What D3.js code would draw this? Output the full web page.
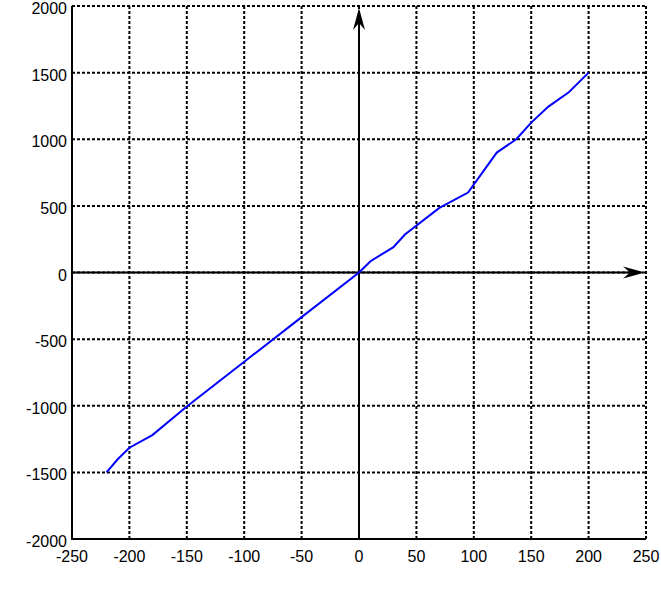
<!DOCTYPE html>
<html>
<head>
<meta charset="utf-8">
<script src="https://cdn.jsdelivr.net/npm/d3@7"></script>
<style>
body { margin: 0; background: #fff; }
text { font-family: "Liberation Sans", Arial, sans-serif; font-size: 16px; fill: #000; }
</style>
</head>
<body>
<svg width="661" height="595"></svg>
<script>
"use strict";

var xTicks = [-250, -200, -150, -100, -50, 0, 50, 100, 150, 200, 250];
var yTicks = [-2000, -1500, -1000, -500, 0, 500, 1000, 1500, 2000];
var xs = [-220, -210, -200, -180, -150, -100, -50, 0, 10, 30, 40, 70, 95, 120, 137, 150, 165, 183, 200];
var ys = [-1500, -1400, -1315, -1220, -1005, -670, -335, 0, 85, 190, 285, 485, 600, 900, 1000, 1125, 1245, 1355, 1500];

var svg = d3.select('svg');
var x = d3.scaleLinear().domain([-250, 250]).range([72, 646]);
var y = d3.scaleLinear().domain([-2000, 2000]).range([539, 6]);

// grid
svg.selectAll('line.gx').data(xTicks.slice(1, -1)).enter().append('line')
	.attr('x1', function(d) {return x(d)}).attr('x2', function(d) {return x(d)})
	.attr('y1', y(-2000)).attr('y2', y(2000))
	.attr('stroke', '#000').attr('stroke-width', 2).attr('stroke-dasharray', '3,2');
svg.selectAll('line.gy').data(yTicks.slice(1, -1)).enter().append('line')
	.attr('y1', function(d) {return y(d)}).attr('y2', function(d) {return y(d)})
	.attr('x1', x(-250)).attr('x2', x(250))
	.attr('stroke', '#000').attr('stroke-width', 2).attr('stroke-dasharray', '3,2');
svg.append('line').attr('x1', x(-250)).attr('x2', x(250)).attr('y1', y(2000)).attr('y2', y(2000))
	.attr('stroke', '#000').attr('stroke-width', 2).attr('stroke-dasharray', '3,2');
svg.append('line').attr('x1', x(250)).attr('x2', x(250)).attr('y1', y(2000)).attr('y2', y(-2000))
	.attr('stroke', '#000').attr('stroke-width', 2).attr('stroke-dasharray', '3,2');

// frame (left and bottom)
svg.append('path')
	.attr('d', 'M' + x(-250) + ',' + y(2000) + 'V' + y(-2000) + 'H' + x(250))
	.attr('fill', 'none').attr('stroke', '#000').attr('stroke-width', 2);

// axis tick labels
svg.selectAll('text.xl').data(xTicks).enter().append('text')
	.attr('x', function(d) {return x(d)}).attr('y', y(-2000) + 23)
	.attr('text-anchor', 'middle')
	.text(function(d) {return d});
svg.selectAll('text.yl').data(yTicks).enter().append('text')
	.attr('x', x(-250) - 5).attr('y', function(d) {return y(d) + 8})
	.attr('text-anchor', 'end')
	.text(function(d) {return d});

// centre axes with arrows
svg.append('line').attr('x1', x(0)).attr('x2', x(0)).attr('y1', y(-2000)).attr('y2', y(2000) + 10)
	.attr('stroke', '#000').attr('stroke-width', 2);
svg.append('line').attr('x1', x(-250)).attr('x2', x(250) - 8).attr('y1', y(0)).attr('y2', y(0))
	.attr('stroke', '#000').attr('stroke-width', 2);
var tx = x(0), ty = y(2000) + 2;
svg.append('path')
	.attr('d', 'M' + tx + ',' + ty + 'L' + (tx + 6) + ',' + (ty + 22) + 'L' + tx + ',' + (ty + 15) + 'L' + (tx - 6) + ',' + (ty + 22) + 'Z')
	.attr('fill', '#000');
var rx = x(250) - 1, ry = y(0);
svg.append('path')
	.attr('d', 'M' + rx + ',' + ry + 'L' + (rx - 22) + ',' + (ry - 6) + 'L' + (rx - 15) + ',' + ry + 'L' + (rx - 22) + ',' + (ry + 6) + 'Z')
	.attr('fill', '#000');

// data line
var pts = xs.map(function(d, i) {return [d, ys[i]]});
svg.append('path').datum(pts)
	.attr('d', d3.line().x(function(d) {return x(d[0])}).y(function(d) {return y(d[1])}))
	.attr('fill', 'none').attr('stroke', '#0000ff').attr('stroke-width', 2);
</script>
</body>
</html>
